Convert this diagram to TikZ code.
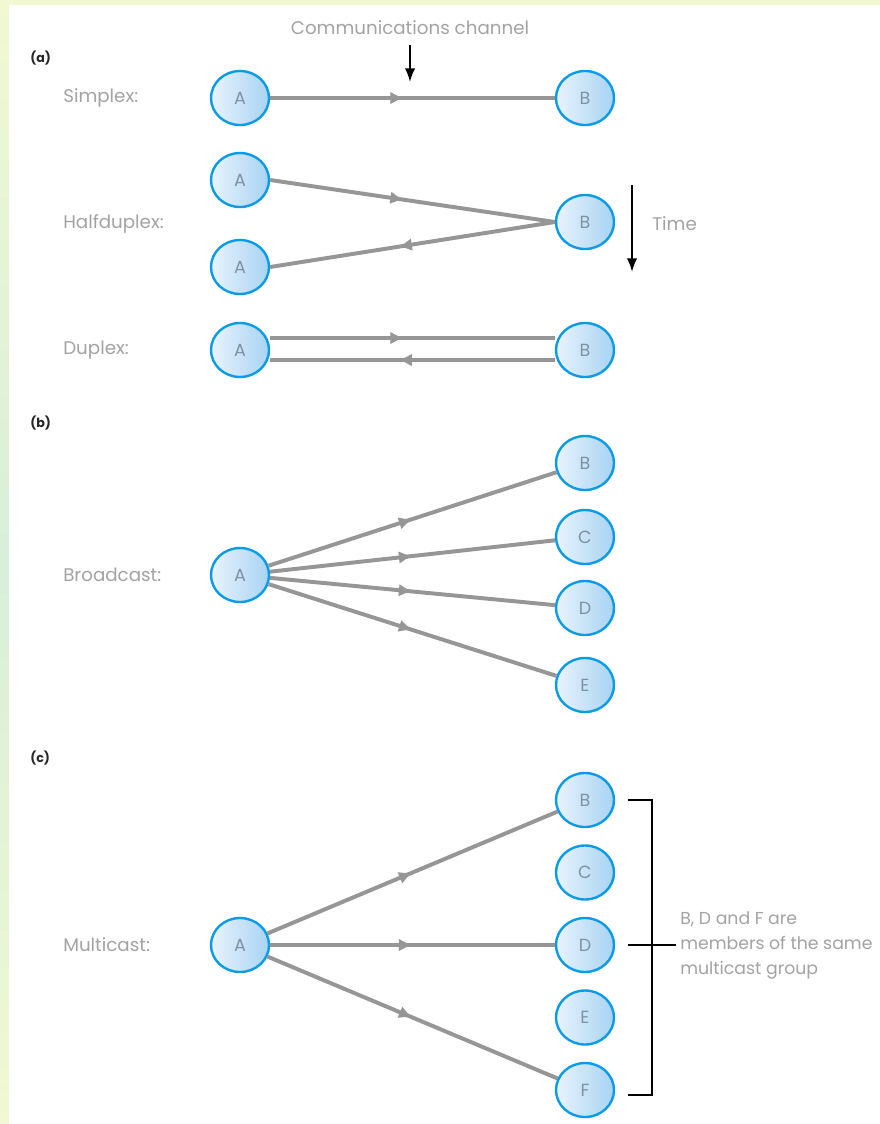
\documentclass[tikz,border=0pt]{standalone}
\usepackage{fontspec}
\setmainfont{Poppins}
\usetikzlibrary{positioning,shapes.geometric,arrows.meta,decorations.markings}
\definecolor{nodeblue}{HTML}{0A9BE6}
\definecolor{nodelight}{HTML}{E8F3FD}
\definecolor{nodedark}{HTML}{A8D3F2}
\definecolor{lettergray}{HTML}{7F91A3}
\definecolor{textgray}{HTML}{A3A3A3}
\definecolor{linegray}{HTML}{969696}
\definecolor{stripyellow}{HTML}{F1F8D2}
\definecolor{stripgreen}{HTML}{D8EFD9}

\begin{document}
\begin{tikzpicture}[
  x=0.025cm, y=-0.025cm,
  station/.style={
    ellipse, draw=nodeblue, line width=1.7pt,
    minimum width=1.45cm, minimum height=1.35cm,
    inner sep=0pt,
    left color=nodelight, right color=nodedark,
    font=\fontsize{12.5}{14}\selectfont, text=lettergray
  },
  kind/.style={anchor=west, inner sep=0pt, font=\fontsize{13}{15}\selectfont, text=textgray},
  part/.style={anchor=west, inner sep=0pt, font=\bfseries\small, text=black!85},
  link/.style={draw=linegray, line width=2.8pt},
  midarrow/.style={postaction={decorate},
    decoration={markings, mark=at position #1 with {\arrow{Latex[length=3.4mm,width=3.2mm]}}}},
  midarrow/.default=0.5,
  pointer/.style={line width=1.5pt, -{Latex[length=3.4mm,width=2.6mm]}}
]
\useasboundingbox (0,0) rectangle (880,1124);

% --- background ---
\fill[stripyellow] (0,0) rectangle (880,5);
\shade[top color=stripyellow, bottom color=stripyellow, middle color=stripgreen] (0,5) rectangle (9,1124);
\fill[white] (9,5) rectangle (880,1124);

% --- (a) ---
\node[part] (pa) at (30,58) {(a)};
\node[text=textgray, font=\fontsize{13}{15}\selectfont] (chan) at (410,28) {Communications channel};
\coordinate (chanTop) at (410,45);
\coordinate (chanTip) at (410,82);
\draw[pointer] (chanTop) -- (chanTip);

\node[kind] (simplex) at (63,98) {Simplex:};
\node[station] (sA) at (240,98) {A};
\node[station] (sB) at (585,98) {B};
\draw[link, midarrow=0.47] (sA) -- (sB);

\node[kind] (half) at (63,224) {Halfduplex:};
\node[station] (hA1) at (240,180) {A};
\node[station] (hA2) at (240,267) {A};
\node[station] (hB) at (585,222) {B};
\draw[link, midarrow=0.47] (hA1.east) -- (hB.west);
\draw[link, midarrow=0.55] (hB.west) -- (hA2.east);

\coordinate (timeTop) at (632,185);
\coordinate (timeTip) at (632,272);
\draw[pointer] (timeTop) -- (timeTip);
\node[kind] (time) at (652,224) {Time};

\node[kind] (duplex) at (63,350) {Duplex:};
\node[station] (dA) at (240,350) {A};
\node[station] (dB) at (585,350) {B};
\draw[link, midarrow=0.47] ([yshift=0.3cm]dA.east) -- ([yshift=0.3cm]dB.west);
\draw[link, midarrow=0.55] ([yshift=-0.25cm]dB.west) -- ([yshift=-0.25cm]dA.east);

% --- (b) ---
\node[part] (pb) at (30,423) {(b)};
\node[kind] (broad) at (63,575) {Broadcast:};
\node[station] (bA) at (240,575) {A};
\foreach \n/\yy in {B/463,C/537,D/608,E/685} {
  \node[station] (b\n) at (585,\yy) {\n};
  \draw[link, midarrow] (bA) -- (b\n);
}

% --- (c) ---
\node[part] (pc) at (30,758) {(c)};
\node[kind] (multi) at (63,945) {Multicast:};
\node[station] (mA) at (240,945) {A};
\foreach \n [count=\i] in {B,C,D,E,F} {
  \node[station] (m\n) at (585,{800+(\i-1)*72.5}) {\n};
}
\foreach \n in {B,D,F} {
  \draw[link, midarrow] (mA) -- (m\n);
}

% group bracket
\draw[line width=1.7pt] (628,800) -- (652,800) -- (652,1095) -- (628,1095);
\draw[line width=1.7pt] (628,945) -- (676,945);
\node[anchor=west, inner sep=0pt, align=left, text=textgray, font=\fontsize{12.3}{17.8}\selectfont] (group) at (680,945)
  {B, D and F are\\members of the same\\multicast group};

\end{tikzpicture}
\end{document}
